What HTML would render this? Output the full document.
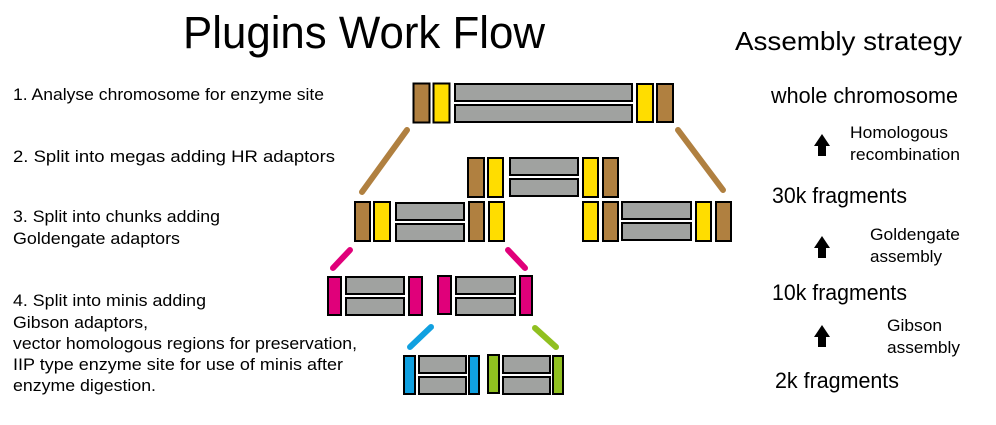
<!DOCTYPE html>
<html><head><meta charset="utf-8"><style>html,body{margin:0;padding:0;background:#fff}svg{display:block}</style></head>
<body>
<svg width="996" height="425" viewBox="0 0 996 425" xmlns="http://www.w3.org/2000/svg" font-family="Liberation Sans, Arial, sans-serif">
<rect width="996" height="425" fill="#fff"/>
<text x="183" y="48" font-size="45" textLength="362" lengthAdjust="spacingAndGlyphs">Plugins Work Flow</text>
<text x="735" y="50" font-size="26" textLength="227" lengthAdjust="spacingAndGlyphs">Assembly strategy</text>

<g font-size="17">
<text x="13" y="100" textLength="311" lengthAdjust="spacingAndGlyphs">1. Analyse chromosome for enzyme site</text>
<text x="13" y="162" textLength="322" lengthAdjust="spacingAndGlyphs">2. Split into megas adding HR adaptors</text>
<text x="13" y="222" textLength="207" lengthAdjust="spacingAndGlyphs">3. Split into chunks adding</text>
<text x="13" y="244" textLength="167" lengthAdjust="spacingAndGlyphs">Goldengate adaptors</text>
<text x="13" y="306" textLength="193" lengthAdjust="spacingAndGlyphs">4. Split into minis adding</text>
<text x="13" y="328" textLength="135" lengthAdjust="spacingAndGlyphs">Gibson adaptors,</text>
<text x="13" y="349" textLength="344" lengthAdjust="spacingAndGlyphs">vector homologous regions for preservation,</text>
<text x="13" y="370" textLength="330" lengthAdjust="spacingAndGlyphs">IIP type enzyme site  for use of minis after</text>
<text x="13" y="391" textLength="143" lengthAdjust="spacingAndGlyphs">enzyme digestion.</text>
</g>

<g font-size="22">
<text x="771" y="103" textLength="187" lengthAdjust="spacingAndGlyphs">whole chromosome</text>
<text x="772" y="203" textLength="135" lengthAdjust="spacingAndGlyphs">30k fragments</text>
<text x="772" y="300" textLength="135" lengthAdjust="spacingAndGlyphs">10k fragments</text>
<text x="775" y="388" textLength="124" lengthAdjust="spacingAndGlyphs">2k fragments</text>
</g>
<g font-size="16.5">
<text x="850" y="138" textLength="98" lengthAdjust="spacingAndGlyphs">Homologous</text>
<text x="850" y="160" textLength="110" lengthAdjust="spacingAndGlyphs">recombination</text>
<text x="870" y="240" textLength="90" lengthAdjust="spacingAndGlyphs">Goldengate</text>
<text x="870" y="262" textLength="72" lengthAdjust="spacingAndGlyphs">assembly</text>
<text x="887" y="331" textLength="55" lengthAdjust="spacingAndGlyphs">Gibson</text>
<text x="887" y="353" textLength="73" lengthAdjust="spacingAndGlyphs">assembly</text>
</g>
<g fill="#000">
<polygon points="822,134 830,146 826,146 826,156 818,156 818,146 814,146"/>
<polygon points="822,236 830,248 826,248 826,258 818,258 818,248 814,248"/>
<polygon points="822,325 830,337 826,337 826,347 818,347 818,337 814,337"/>
</g>

<g stroke-linecap="round" stroke-width="6">
<line x1="407" y1="130" x2="362" y2="192" stroke="#b08040"/>
<line x1="678" y1="130" x2="723" y2="190" stroke="#b08040"/>
<line x1="350" y1="250" x2="333" y2="268" stroke="#e0007a"/>
<line x1="508" y1="250" x2="525" y2="268" stroke="#e0007a"/>
<line x1="431" y1="327" x2="410" y2="347" stroke="#10a0e0"/>
<line x1="535" y1="328" x2="556" y2="347" stroke="#90c020"/>
</g>

<g stroke="#000" stroke-width="2">
<rect x="413.5" y="83.5" width="16" height="39" fill="#b08040"/>
<rect x="433.5" y="83.5" width="16" height="39" fill="#ffdd00"/>
<rect x="455" y="84" width="177" height="17" fill="#a0a2a0"/>
<rect x="455" y="105" width="177" height="17" fill="#a0a2a0"/>
<rect x="637" y="84" width="16" height="38" fill="#ffdd00"/>
<rect x="657" y="84" width="16" height="38" fill="#b08040"/>
<rect x="468" y="158" width="16" height="39" fill="#b08040"/>
<rect x="488" y="158" width="15" height="39" fill="#ffdd00"/>
<rect x="510" y="158" width="68" height="17" fill="#a0a2a0"/>
<rect x="510" y="179" width="68" height="17" fill="#a0a2a0"/>
<rect x="583" y="158" width="15" height="39" fill="#ffdd00"/>
<rect x="603" y="158" width="15" height="39" fill="#b08040"/>
<rect x="355" y="202" width="15" height="39" fill="#b08040"/>
<rect x="374" y="202" width="16" height="39" fill="#ffdd00"/>
<rect x="396" y="203" width="68" height="17" fill="#a0a2a0"/>
<rect x="396" y="224" width="68" height="17" fill="#a0a2a0"/>
<rect x="469" y="202" width="15" height="39" fill="#b08040"/>
<rect x="489" y="202" width="15" height="39" fill="#ffdd00"/>
<rect x="583" y="202" width="15" height="39" fill="#ffdd00"/>
<rect x="603" y="202" width="15" height="39" fill="#b08040"/>
<rect x="622" y="202" width="69" height="17" fill="#a0a2a0"/>
<rect x="622" y="223" width="69" height="17" fill="#a0a2a0"/>
<rect x="696" y="202" width="15" height="39" fill="#ffdd00"/>
<rect x="716" y="202" width="15" height="39" fill="#b08040"/>
<rect x="328" y="277" width="13" height="38" fill="#e0007a"/>
<rect x="346" y="277" width="58" height="17" fill="#a0a2a0"/>
<rect x="346" y="298" width="58" height="17" fill="#a0a2a0"/>
<rect x="409" y="277" width="13" height="38" fill="#e0007a"/>
<rect x="438" y="276" width="13" height="38" fill="#e0007a"/>
<rect x="456" y="277" width="59" height="17" fill="#a0a2a0"/>
<rect x="456" y="298" width="59" height="17" fill="#a0a2a0"/>
<rect x="520" y="276" width="12" height="39" fill="#e0007a"/>
<rect x="404" y="356" width="11" height="38" fill="#10a0e0"/>
<rect x="419" y="356" width="47" height="17" fill="#a0a2a0"/>
<rect x="419" y="377" width="47" height="17" fill="#a0a2a0"/>
<rect x="469" y="356" width="10" height="38" fill="#10a0e0"/>
<rect x="488" y="355" width="11" height="38" fill="#90c020"/>
<rect x="503" y="356" width="47" height="17" fill="#a0a2a0"/>
<rect x="503" y="377" width="47" height="17" fill="#a0a2a0"/>
<rect x="553" y="356" width="10" height="38" fill="#90c020"/>
</g>
</svg>
</body></html>
